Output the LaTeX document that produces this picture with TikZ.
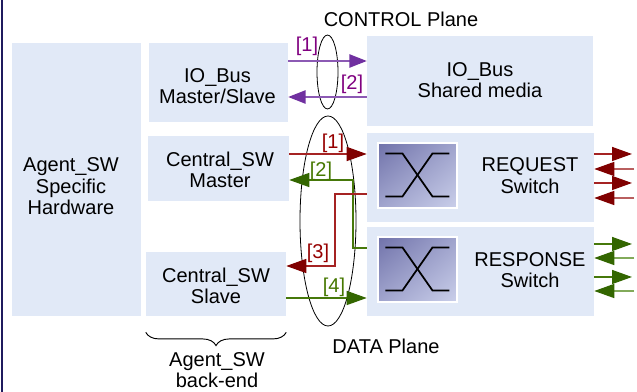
\documentclass[tikz,border=0pt]{standalone}
\usepackage{fontspec}
\setmainfont{Liberation Sans}
\usetikzlibrary{arrows.meta,calc,decorations.pathreplacing,shapes.geometric,shadings}
\definecolor{boxfill}{HTML}{E1E9F7}
\definecolor{navy}{HTML}{1F1A5E}
\definecolor{pline}{RGB}{140,90,180}
\definecolor{phead}{RGB}{112,48,160}
\definecolor{plbl}{RGB}{128,0,128}
\definecolor{rline}{RGB}{165,35,35}
\definecolor{rlight}{RGB}{185,95,95}
\definecolor{rhead}{RGB}{128,0,0}
\definecolor{rlbl}{RGB}{150,0,0}
\definecolor{gline}{RGB}{70,120,10}
\definecolor{glight}{RGB}{130,170,90}
\definecolor{ghead}{RGB}{51,102,0}
\definecolor{glbl}{RGB}{70,120,0}
\definecolor{iconA}{RGB}{112,114,170}
\definecolor{iconB}{RGB}{160,164,205}
\definecolor{iconC}{RGB}{202,207,234}
\begin{document}
\begin{tikzpicture}[x=0.75pt,y=-0.75pt,
  font=\fontsize{15}{16.2}\selectfont,
  blk/.style={fill=boxfill, inner sep=0pt, draw=none},
  txt/.style={align=center, inner sep=0pt},
  icon/.style={inner sep=0pt, minimum width=79*0.75pt, minimum height=65*0.75pt,
    upper left=iconA, upper right=iconB, lower left=iconB, lower right=iconC,
    draw=white, line width=0.8pt},
  xline/.style={line width=1.3pt, black},
  plane/.style={draw=black, line width=0.6pt, ellipse, inner sep=0pt},
  parr/.style={draw=pline, line width=1.1pt, -{Triangle[length=13pt,width=10pt,color=phead]}},
  rarr/.style={draw=rline, line width=1.1pt, -{Triangle[length=15pt,width=10.5pt,color=rhead]}},
  rarrl/.style={draw=rlight, line width=1.1pt, -{Triangle[length=15pt,width=10.5pt,color=rhead]}},
  garr/.style={draw=gline, line width=1.1pt, -{Triangle[length=15pt,width=10.5pt,color=ghead]}},
  garrl/.style={draw=glight, line width=1.1pt, -{Triangle[length=15pt,width=10.5pt,color=ghead]}},
  lbl/.style={inner sep=0pt}
]
\useasboundingbox (0,0) rectangle (637,392);
\fill[white] (0,0) rectangle (637,392);
\draw[navy, line width=1.5pt] (2,0) -- (2,392);

% boxes
\node[blk, minimum width=129*0.75pt, minimum height=273*0.75pt] (hw) at (76.5,179.5) {};
\node[blk, minimum width=139*0.75pt, minimum height=79*0.75pt] (iom) at (218.5,82.5) {};
\node[blk, minimum width=226*0.75pt, minimum height=90*0.75pt] (ios) at (480,81) {};
\node[blk, minimum width=141*0.75pt, minimum height=65*0.75pt] (csm) at (218.5,168.5) {};
\node[blk, minimum width=140*0.75pt, minimum height=64*0.75pt] (css) at (216,284) {};
\node[blk, minimum width=227*0.75pt, minimum height=89*0.75pt] (req) at (480.5,177.5) {};
\node[blk, minimum width=227*0.75pt, minimum height=89*0.75pt] (rsp) at (480.5,271.5) {};

% texts
\node[txt] (thw) at (71,186.5) {Agent\_SW\\Specific\\Hardware};
\node[txt] (tiom) at (217.5,86) {IO\_Bus\\Master/Slave};
\node[txt] (tios) at (480,80) {IO\_Bus\\Shared media};
\node[txt] (tcsm) at (220,170) {Central\_SW\\Master};
\node[txt] (tcss) at (216,286) {Central\_SW\\Slave};
\node[txt] (treq) at (530,175.5) {REQUEST\\Switch};
\node[txt] (trsp) at (530,270) {RESPONSE\\Switch};
\node[txt] (tctl) at (401,19) {CONTROL Plane};
\node[txt] (tdat) at (386,346) {DATA Plane};
\node[txt] (tbe) at (217,370) {Agent\_SW\\back-end};

% switch icons
\node[icon, shade] (i1) at (417.5,175.5) {};
\node[icon, shade] (i2) at (417.5,269.5) {};
\foreach \ic in {i1,i2}{
  \draw[xline] ($(\ic.north west)+(8,11)$) -- ++(17,0) -- ++(30,43) -- ++(17,0);
  \draw[xline] ($(\ic.north west)+(8,54)$) -- ++(17,0) -- ++(30,-43) -- ++(17,0);
}

% plane ellipses
\node[plane, minimum width=21*0.75pt, minimum height=74*0.75pt] (cpl) at (327.5,72) {};
\node[plane, minimum width=56*0.75pt, minimum height=210*0.75pt] (dpl) at (328,221) {};

% brace
\draw[line width=0.7pt, decorate, decoration={brace, amplitude=10pt, mirror}]
  ($(css.south west)+(0,16)$) -- ($(css.south east)+(0,16)$);

% control plane arrows
\draw[parr] (iom.east |- 0,61) -- (ios.west |- 0,61);
\draw[parr] (ios.west |- 0,97) -- (iom.east |- 0,97);
\node[lbl, text=plbl] (c1) at (307,46) {[1]};
\node[lbl, text=plbl] (c2) at (352,84) {[2]};

% data plane arrows
\draw[rarr] (csm.east |- 0,154) -- (req.west |- 0,154);
\draw[garr] (rsp.west |- 0,248) -- (353,248) -- (353,180) -- (csm.east |- 0,180);
\draw[rarr] (req.west |- 0,194) -- (335,194) -- (335,266) -- (css.east |- 0,266);
\draw[garr] (css.east |- 0,298) -- (rsp.west |- 0,298);
\node[lbl, text=rlbl] (d1) at (333,143.5) {[1]};
\node[lbl, text=glbl] (d2) at (321,171) {[2]};
\node[lbl, text=rlbl] (d3) at (318,253) {[3]};
\node[lbl, text=glbl] (d4) at (334,287) {[4]};

% right side ports
\coordinate (q1) at (632,154);
\coordinate (q2) at (634,169);
\coordinate (q3) at (632,183);
\coordinate (q4) at (634,198);
\coordinate (s1) at (632,244);
\coordinate (s2) at (634,258);
\coordinate (s3) at (632,277);
\coordinate (s4) at (634,291);
\draw[rarr] (req.east |- q1) -- (q1);
\draw[rarrl] (q2) -- (req.east |- q2);
\draw[rarr] (req.east |- q3) -- (q3);
\draw[rarrl] (q4) -- (req.east |- q4);
\draw[garr] (rsp.east |- s1) -- (s1);
\draw[garrl] (s2) -- (rsp.east |- s2);
\draw[garr] (rsp.east |- s3) -- (s3);
\draw[garrl] (s4) -- (rsp.east |- s4);
\end{tikzpicture}
\end{document}
